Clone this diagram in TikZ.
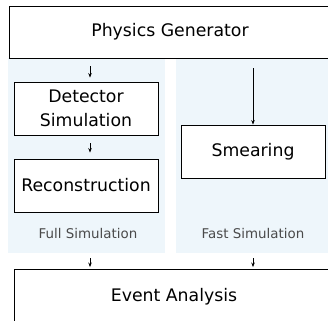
\documentclass[tikz,border=0pt]{standalone}
\usepackage{fontspec}
\setmainfont{DejaVu Sans}
\usetikzlibrary{arrows.meta}
\definecolor{panelblue}{HTML}{EEF6FB}
\definecolor{labgray}{HTML}{4A4A4A}
\begin{document}
\begin{tikzpicture}[x=1pt,y=-1pt,
  box/.style={draw=black,line width=0.9pt,fill=white,inner sep=0pt,
    font=\fontsize{17.3}{23.5}\selectfont,align=center,text=black},
  panel/.style={fill=panelblue,draw=none},
  lab/.style={font=\fontsize{13.4}{16}\selectfont,text=labgray,inner sep=0pt},
  arr/.style={-{Stealth[length=4.5pt,width=3.5pt]},line width=0.7pt}]
\clip (0,0) rectangle (328,320);
\fill[white] (0,0) rectangle (328,320);
% panels
\fill[panel] (8,58) rectangle (165,253);
\fill[panel] (176,58) rectangle (332,253);
% boxes
\node[box,minimum width=322pt,minimum height=52pt] (pg) at (170,32) {Physics Generator};
\node[box,minimum width=144pt,minimum height=53pt] (det) at (86,108.5) {Detector\\Simulation};
\node[box,minimum width=144pt,minimum height=53pt] (rec) at (86,185.5) {Reconstruction};
\node[box,minimum width=144pt,minimum height=53pt] (sme) at (253,151.5) {Smearing};
\node[box,minimum width=320pt,minimum height=56pt] (ea) at (174,297) {Event Analysis};
% labels
\node[lab] (full) at (88,234) {Full Simulation};
\node[lab] (fast) at (253,234) {Fast Simulation};
% anchor coordinates
\coordinate (c1) at (90,0);
\coordinate (c2) at (253,0);
\coordinate (f1) at (90,258);
\coordinate (f2) at (253,258);
% connectors
\draw[arr,shorten <=8pt,shorten >=4pt] (pg.south -| c1) -- (det.north -| c1);
\draw[arr,shorten <=8pt,shorten >=6pt] (det.south -| c1) -- (rec.north -| c1);
\draw[arr,shorten <=10pt] (pg.south -| c2) -- (sme.north -| c2);
\draw[arr,shorten >=1.5pt] (f1) -- (ea.north -| f1);
\draw[arr,shorten >=1.5pt] (f2) -- (ea.north -| f2);
\end{tikzpicture}
\end{document}
